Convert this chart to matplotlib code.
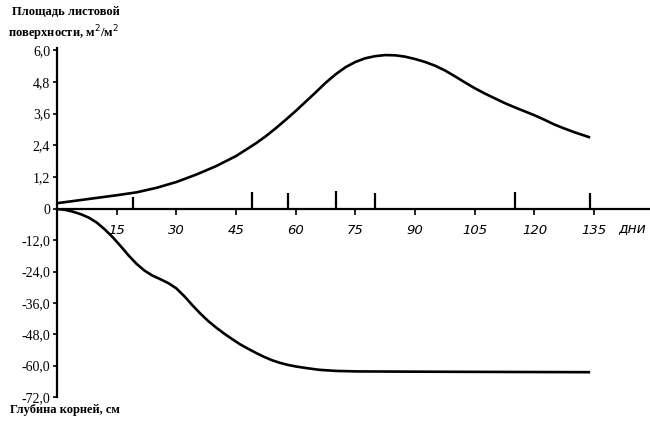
import numpy as np
import matplotlib.pyplot as plt

# Площадь листовой поверхности (м2/м2) по дням
area_days = [0, 5, 10, 15, 20, 25, 30, 35, 40, 45, 50, 52.5, 55, 57.5, 60,
             62.5, 65, 67.5, 70, 72.5, 75, 77.5, 80, 82.5, 85, 87.5, 90, 92.5,
             95, 97.5, 100, 102.5, 105, 107.5, 110, 112.5, 115, 117.5, 120,
             122.5, 125, 127.5, 130, 134]
area_vals = [0.22, 0.32, 0.42, 0.52, 0.63, 0.80, 1.02, 1.30, 1.62, 2.00, 2.48,
             2.75, 3.05, 3.37, 3.70, 4.05, 4.40, 4.76, 5.08, 5.35, 5.55, 5.69,
             5.77, 5.81, 5.80, 5.75, 5.66, 5.55, 5.41, 5.23, 5.01, 4.78, 4.56,
             4.36, 4.18, 4.00, 3.84, 3.69, 3.54, 3.37, 3.19, 3.04, 2.90, 2.70]

# Глубина корней (см)
root_days = [0, 2, 4, 6, 8, 10, 12, 14, 16, 18, 20, 22, 24, 26, 28, 30, 32,
             34, 36, 38, 40, 42, 44, 46, 48, 50, 52, 54, 56, 58, 60, 63, 66,
             70, 75, 90, 110, 134]
root_vals = [0, -0.3, -1.0, -2.0, -3.3, -5.2, -7.8, -10.8, -14.2, -17.8,
             -21.0, -23.6, -25.5, -26.9, -28.4, -30.4, -33.4, -36.8, -40.0,
             -42.9, -45.4, -47.7, -49.8, -51.8, -53.5, -55.1, -56.6, -57.9,
             -58.9, -59.7, -60.3, -61.0, -61.6, -62.0, -62.2, -62.3, -62.4,
             -62.5]

# вертикальные отметки на оси дней
mark_days = [19, 49, 58, 70, 80, 115, 134]
mark_heights = [0.45, 0.64, 0.60, 0.68, 0.62, 0.66, 0.62]

x_ticks = [15, 30, 45, 60, 75, 90, 105, 120, 135]
top_ticks = [0, 1.2, 2.4, 3.6, 4.8, 6.0]
top_labels = ["0", "1,2", "2,4", "3,6", "4,8", "6,0"]
bot_ticks = [-72, -60, -48, -36, -24, -12]
bot_labels = ["-72,0", "-60,0", "-48,0", "-36,0", "-24,0", "-12,0"]

serif = "Liberation Serif"

fig = plt.figure(figsize=(6.5, 4.24), dpi=100)
ax_top = fig.add_axes([0.0877, 0.507, 0.912, 0.38])
ax_bot = fig.add_axes([0.0877, 0.0637, 0.912, 0.4433])
for a in (ax_top, ax_bot):
    a.patch.set_visible(False)
    a.set_xlim(0, 149)
    for s in ("top", "right"):
        a.spines[s].set_visible(False)
    a.spines["left"].set_linewidth(1.6)

ax_top.set_ylim(0, 6.08)
ax_bot.set_ylim(-72, 0)

ax_top.plot(area_days, area_vals, color="black", lw=1.9,
            solid_joinstyle="round", solid_capstyle="butt")
ax_bot.plot(root_days, root_vals, color="black", lw=1.9,
            solid_joinstyle="round", solid_capstyle="butt")
ax_top.vlines(mark_days, 0, mark_heights, color="black", lw=1.6)

ax_top.spines["bottom"].set_linewidth(1.6)
ax_top.set_xticks(x_ticks)
ax_top.set_xticklabels([str(t) for t in x_ticks], fontstyle="italic",
                       fontsize=9.5, family="DejaVu Sans")
ax_top.tick_params(axis="x", direction="out", length=4, width=1.2, pad=7)
ax_top.text(141, -0.72, "дни", fontstyle="italic", fontsize=10,
            family="DejaVu Sans", ha="left", va="center")

ax_top.set_yticks(top_ticks)
ax_top.set_yticklabels(top_labels, family=serif, fontsize=10)
ax_top.tick_params(axis="y", direction="out", length=3, width=1.2, pad=2)

ax_bot.spines["bottom"].set_visible(False)
ax_bot.set_xticks([])
ax_bot.set_yticks(bot_ticks)
ax_bot.set_yticklabels(bot_labels, family=serif, fontsize=10)
ax_bot.tick_params(axis="y", direction="out", length=3, width=1.2, pad=2)

fig.text(0.018, 0.972, "Площадь листовой", family=serif, fontsize=9,
         fontweight="bold", va="center", ha="left")
fig.text(0.012, 0.922, "поверхности, м$^2$/м$^2$", family=serif, fontsize=9,
         fontweight="bold", va="center", ha="left")
fig.text(0.016, 0.033, "Глубина корней, см", family=serif, fontsize=9,
         fontweight="bold", va="center", ha="left")

plt.savefig("out.png", dpi=100)
